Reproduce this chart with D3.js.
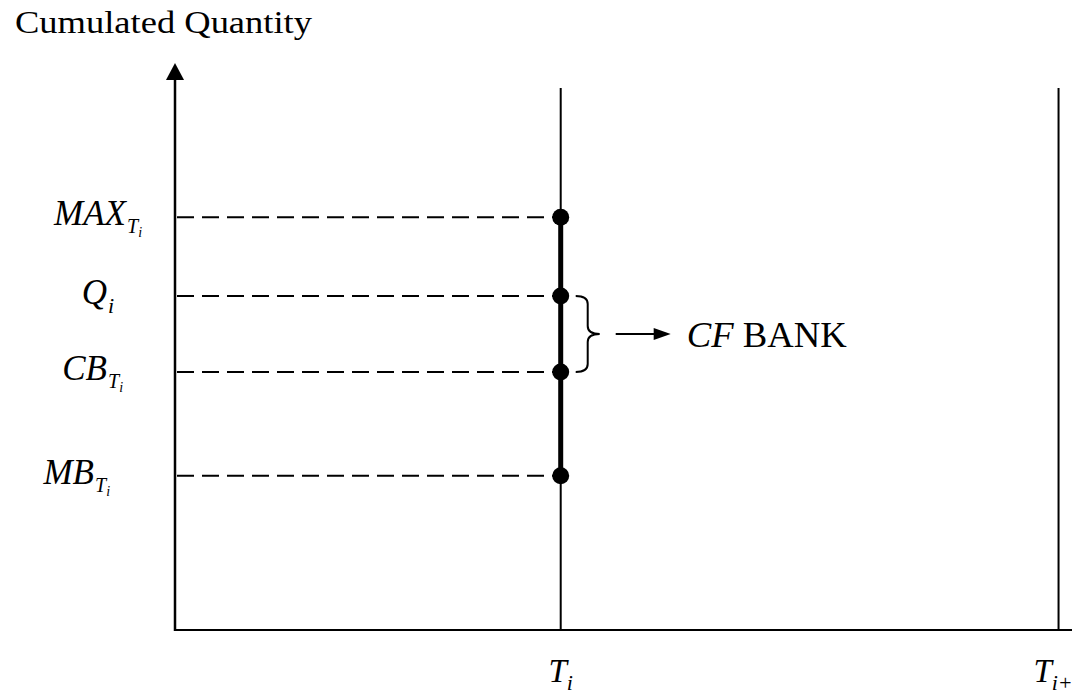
<!DOCTYPE html>
<html><head><meta charset="utf-8">
<script src="https://cdn.jsdelivr.net/npm/d3@7"></script>
<style>body{margin:0;background:#fff}svg{display:block}text{font-family:"Liberation Serif","Times New Roman",serif;fill:#000}</style>
</head><body><svg id="c" width="1072" height="695"></svg>
<script>
// Data
const levels = ["MAX", "Q", "CB", "MB"];
const levelValues = [72.8, 58.9, 45.5, 27.2];
const levelSubs = [["T","i"], ["i",null], ["T","i"], ["T","i"]];
const times = ["T", "T"];
const timeSubs = ["i", "i+1"];
const timeValues = [0.43, 0.985];
const yTop = 95.6, yMax = 100;
const bankFrom = "Q", bankTo = "CB", bankLabel = ["CF", " BANK"];
const yTitle = "Cumulated Quantity";

const svg = d3.select("#c");
const x = d3.scaleLinear().domain([0, 1]).range([175, 1072]);
const y = d3.scaleLinear().domain([0, 100]).range([630, 63]);
const x0 = x(0), y0 = y(0);

// axes
svg.append("line").attr("x1", x0).attr("x2", x(1)).attr("y1", y0).attr("y2", y0).attr("stroke", "#000").attr("stroke-width", 2);
svg.append("line").attr("x1", x0).attr("x2", x0).attr("y1", y0 + 1).attr("y2", y(yMax) + 14).attr("stroke", "#000").attr("stroke-width", 2.5);
svg.append("path").attr("d", `M${x0},${y(yMax)} L${x0 - 9},${y(yMax) + 17} L${x0 + 9},${y(yMax) + 17} Z`).attr("fill", "#000");
svg.append("text").attr("x", 15).attr("y", 33).attr("font-size", 31)
  .attr("textLength", 297).attr("lengthAdjust", "spacingAndGlyphs").text(yTitle);

// time vertical lines
timeValues.forEach(t => {
  svg.append("line").attr("x1", x(t)).attr("x2", x(t)).attr("y1", y(yTop)).attr("y2", y0).attr("stroke", "#000").attr("stroke-width", 2);
});
// time labels
const tl = svg.selectAll(".tl").data(times).join("text").attr("class", "tl")
  .attr("x", (d, i) => x(timeValues[i])).attr("y", 682).attr("font-size", 33).attr("font-style", "italic")
  .attr("text-anchor", "middle");
tl.append("tspan").text(d => d);
tl.append("tspan").attr("font-size", 22).attr("dy", 8).text((d, i) => timeSubs[i]);

// dashed lines
const ti = x(timeValues[0]);
levelValues.forEach(v => {
  svg.append("line").attr("x1", x0 + 2).attr("x2", ti - 6).attr("y1", y(v)).attr("y2", y(v))
    .attr("stroke", "#000").attr("stroke-width", 2).attr("stroke-dasharray", "17,8");
});
// thick segment
svg.append("line").attr("x1", ti).attr("x2", ti).attr("y1", y(d3.max(levelValues))).attr("y2", y(d3.min(levelValues)))
  .attr("stroke", "#000").attr("stroke-width", 5);
// dots
svg.selectAll(".dot").data(levelValues).join("circle").attr("class", "dot")
  .attr("cx", ti).attr("cy", d => y(d)).attr("r", 8.5).attr("fill", "#000");

// level labels
const labelRight = [126, 107, 107, 94];
levels.forEach((l, i) => {
  const yy = y(levelValues[i]);
  svg.append("text").attr("font-style", "italic").attr("font-size", 35).attr("text-anchor", "end")
    .attr("x", labelRight[i]).attr("y", yy + 8).text(l);
  const s = levelSubs[i];
  if (s[1]) {
    const g = svg.append("text").attr("font-style", "italic").attr("x", labelRight[i] + 1).attr("y", yy + 16);
    g.append("tspan").attr("font-size", 20).text(s[0]);
    g.append("tspan").attr("font-size", 14).attr("dy", 4).text(s[1]);
  } else {
    svg.append("text").attr("font-style", "italic").attr("font-size", 22).attr("x", labelRight[i] + 1).attr("y", yy + 17).text(s[0]);
  }
});

// brace
const bq = y(levelValues[levels.indexOf(bankFrom)]), bc = y(levelValues[levels.indexOf(bankTo)]);
const bm = (bq + bc) / 2, bx = ti + 15, bw = 12;
svg.append("path").attr("fill", "none").attr("stroke", "#000").attr("stroke-width", 2)
  .attr("d", `M${bx},${bq} Q${bx + bw},${bq} ${bx + bw},${bq + 8} L${bx + bw},${bm - 8} Q${bx + bw},${bm} ${bx + bw * 2},${bm} Q${bx + bw},${bm} ${bx + bw},${bm + 8} L${bx + bw},${bc - 8} Q${bx + bw},${bc} ${bx},${bc}`);
// arrow
const ax1 = bx + bw * 2 + 16, ax2 = ax1 + 55;
svg.append("line").attr("x1", ax1).attr("x2", ax2 - 14).attr("y1", bm).attr("y2", bm).attr("stroke", "#000").attr("stroke-width", 2);
svg.append("path").attr("d", `M${ax2},${bm} L${ax2 - 17},${bm - 6} L${ax2 - 17},${bm + 6} Z`).attr("fill", "#000");
const bt = svg.append("text").attr("x", ax2 + 16).attr("y", bm + 13).attr("font-size", 35)
  .attr("textLength", 160).attr("lengthAdjust", "spacingAndGlyphs");
bt.append("tspan").attr("font-style", "italic").text(bankLabel[0]);
bt.append("tspan").text(bankLabel[1]);
</script></body></html>
